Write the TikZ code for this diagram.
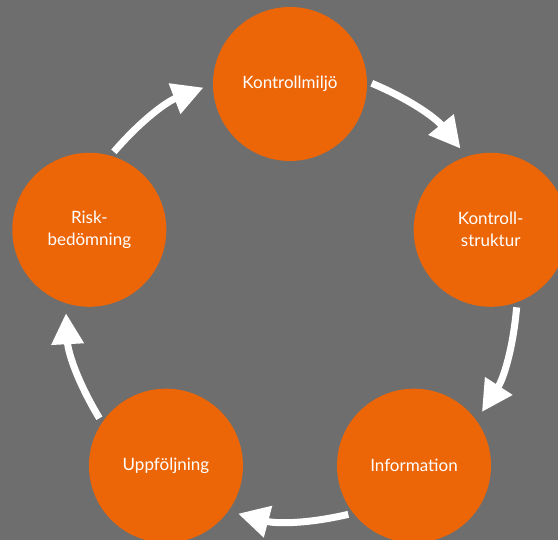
\documentclass[tikz,border=0pt]{standalone}
\usepackage{fontspec}
\setmainfont{Lato}
\usepackage{tikz}
\usetikzlibrary{arrows.meta}
\definecolor{bggray}{HTML}{6E6E6E}
\definecolor{cycleorange}{HTML}{EC6608}

\begin{document}
\begin{tikzpicture}[
        x=1pt, y=1pt,
        phase/.style={
            circle, fill=cycleorange, minimum size=154pt, inner sep=0pt,
            text=white, align=center, font=\fontsize{17}{22}\selectfont
        },
        arrow/.style={-{Triangle[width=31pt, length=31pt]}, line width=7pt, white,
            shorten <=5pt, shorten >=10pt}
    ]
        % Background
        \clip (-290,-245) rectangle (268,295);
        \fill[bggray] (-290,-245) rectangle (268,295);

        % Phases of the cycle
        \node[phase] (km) at (90:211) {Kontrollmiljö};
        \node[phase] (ks) at (18:211) {Kontroll-\\struktur};
        \node[phase] (inf) at (-54:211) {Information};
        \node[phase] (upp) at (-126:211) {Uppföljning};
        \node[phase] (risk) at (162:211) {Risk-\\bedömning};

        % Connectors
        \draw[arrow] (km.2) to[bend left=14] (ks.108);
        \draw[arrow] (ks.-70) to[bend left=14] (inf.36);
        \draw[arrow] (inf.-142) to[bend left=14] (upp.-36);
        \draw[arrow] (upp.146) to[bend left=14] (risk.-108);
        \draw[arrow] (risk.74) to[bend left=14] (km.180);

    \end{tikzpicture}
\end{document}
